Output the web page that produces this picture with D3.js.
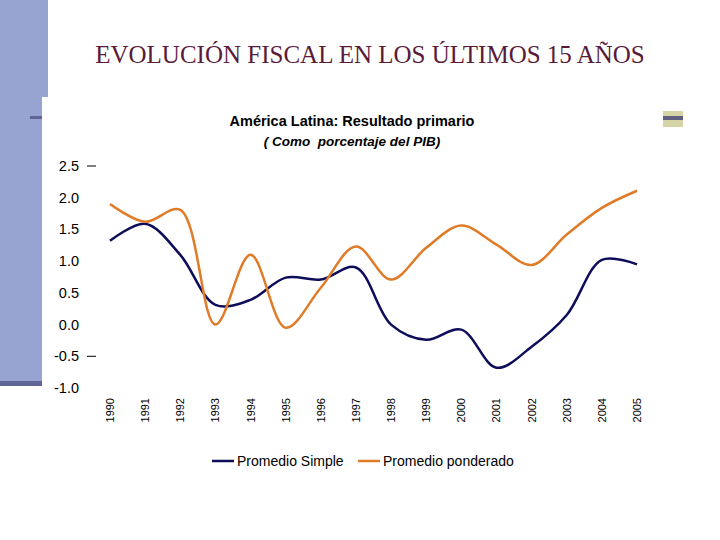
<!DOCTYPE html>
<html><head><meta charset="utf-8">
<script src="https://cdn.jsdelivr.net/npm/d3@7"></script>
<style>body{margin:0;background:#fff}</style>
</head><body><div id="chart"></div>
<script>
let years = ["1990","1991","1992","1993","1994","1995","1996","1997","1998","1999","2000","2001","2002","2003","2004","2005"]
let simple = [1.32,1.59,1.1,0.31,0.39,0.74,0.71,0.9,0.0,-0.24,-0.08,-0.68,-0.35,0.15,1.02,0.95]
let ponderado = [1.9,1.62,1.81,0.0,1.1,-0.05,0.58,1.23,0.71,1.21,1.56,1.26,0.94,1.42,1.84,2.11]
let yTicks = [2.5,2.0,1.5,1.0,0.5,0.0,-0.5,-1.0]
let colors = {simple: "#0d0d5a", ponderado: "#e07b28"}

let svg = d3.select("#chart").append("svg").attr("width",720).attr("height",540)

// slide decoration
svg.append("rect").attr("x",0).attr("y",0).attr("width",48).attr("height",386).attr("fill","#97a3d0")
svg.append("rect").attr("x",0).attr("y",381).attr("width",42).attr("height",5).attr("fill","#5f6596")
svg.append("rect").attr("x",42).attr("y",97).attr("width",678).attr("height",443).attr("fill","#fff")
svg.append("rect").attr("x",30).attr("y",116).attr("width",12).attr("height",3).attr("fill","#5f6596")
svg.append("rect").attr("x",663).attr("y",111).attr("width",20).attr("height",16).attr("fill","#d6d3a6")
svg.append("rect").attr("x",663).attr("y",116).attr("width",20).attr("height",4).attr("fill","#5f6080")

svg.append("text").attr("x",370).attr("y",63).attr("text-anchor","middle")
  .attr("font-family","Liberation Serif").attr("font-size",25).attr("fill","#5a1a3a")
  .text("EVOLUCIÓN FISCAL EN LOS ÚLTIMOS 15 AÑOS")

svg.append("text").attr("x",352).attr("y",126).attr("text-anchor","middle")
  .attr("font-family","Liberation Sans").attr("font-weight","bold").attr("font-size",14.5)
  .text("América Latina: Resultado primario")
svg.append("text").attr("x",352).attr("y",146).attr("text-anchor","middle")
  .attr("font-family","Liberation Sans").attr("font-weight","bold").attr("font-style","italic").attr("font-size",13.5)
  .attr("xml:space","preserve").text("( Como  porcentaje del PIB)")

let x = d3.scalePoint().domain(years).range([110,637])
let y = d3.scaleLinear().domain([-1,2.5]).range([388,166])

let yAxis = svg.append("g")
yAxis.selectAll("text").data(yTicks).enter().append("text")
  .attr("x",79).attr("y",d=>y(d)+5).attr("text-anchor","end")
  .attr("font-family","Liberation Sans").attr("font-size",14.5)
  .text(d=>d3.format(".1f")(d).replace("−","-"))
yAxis.selectAll("line").data([2.5,-0.5]).enter().append("line")
  .attr("x1",87).attr("x2",96).attr("y1",d=>y(d)).attr("y2",d=>y(d)).attr("stroke","#000")

svg.append("g").selectAll("text").data(years).enter().append("text")
  .attr("transform",d=>`translate(${x(d)+4},398) rotate(-90)`).attr("text-anchor","end")
  .attr("font-family","Liberation Sans").attr("font-size",11).text(d=>d)

let line = d3.line().x((d,i)=>x(years[i])).y(d=>y(d)).curve(d3.curveCatmullRom)
svg.append("path").attr("d",line(simple)).attr("fill","none").attr("stroke",colors.simple).attr("stroke-width",2.5)
svg.append("path").attr("d",line(ponderado)).attr("fill","none").attr("stroke",colors.ponderado).attr("stroke-width",2.5)

let legend = [["Promedio Simple",colors.simple,212],["Promedio ponderado",colors.ponderado,358]]
legend.forEach(l=>{
  svg.append("line").attr("x1",l[2]).attr("x2",l[2]+22).attr("y1",461).attr("y2",461).attr("stroke",l[1]).attr("stroke-width",2.5)
  svg.append("text").attr("x",l[2]+25).attr("y",466).attr("font-family","Liberation Sans").attr("font-size",14).text(l[0])
})
</script></body></html>
